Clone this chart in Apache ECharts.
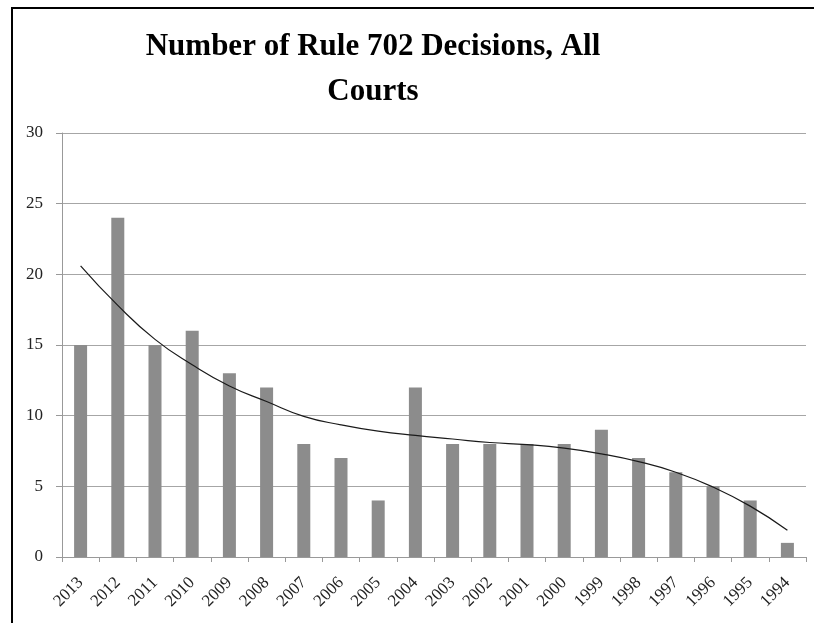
<!DOCTYPE html>
<html>
<head>
<meta charset="utf-8">
<title>Number of Rule 702 Decisions, All Courts</title>
<script src="https://cdn.jsdelivr.net/npm/echarts@6/dist/echarts.min.js"></script>
<style>
  html, body { margin: 0; padding: 0; background: #fff; }
  #chart { width: 814px; height: 623px; }
</style>
</head>
<body>
<div id="chart"></div>
<script>
  // data
  var years = ["2013", "2012", "2011", "2010", "2009", "2008", "2007", "2006", "2005", "2004",
               "2003", "2002", "2001", "2000", "1999", "1998", "1997", "1996", "1995", "1994"];
  var decisions = [15, 24, 15, 16, 13, 12, 8, 7, 4, 12, 8, 8, 8, 8, 9, 7, 6, 5, 4, 1];
  // trendline as drawn in the original (estimated per category)
  var trend = [20.6, 17.8, 15.4, 13.6, 12.1, 11.0, 9.95, 9.35, 8.9, 8.6,
               8.35, 8.1, 7.95, 7.7, 7.3, 6.75, 6.0, 4.95, 3.6, 1.9];
  var yTicks = [0, 5, 10, 15, 20, 25, 30];

  var serif = "'Liberation Serif', 'DejaVu Serif', serif";
  var chart = echarts.init(document.getElementById("chart"));
  chart.setOption({
    animation: false,
    title: {
      text: "Number of Rule 702 Decisions, All\nCourts",
      left: 368,
      top: 19,
      textAlign: "center",
      textStyle: {
        fontFamily: serif,
        fontSize: 31,
        fontWeight: "bold",
        color: "#000",
        lineHeight: 45
      }
    },
    graphic: [{
      type: "rect",
      shape: { x: 12, y: 8, width: 900, height: 700 },
      style: { fill: "none", stroke: "#000", lineWidth: 2 },
      silent: true
    }],
    grid: { left: 62, right: 8, top: 133, bottom: 66 },
    xAxis: {
      type: "category",
      data: years,
      axisLine: { lineStyle: { color: "#999", width: 1 } },
      axisTick: { show: true, length: 5, lineStyle: { color: "#999" } },
      axisLabel: {
        rotate: 45,
        margin: 23,
        fontFamily: serif,
        fontSize: 17,
        color: "#222"
      }
    },
    yAxis: {
      type: "value",
      min: yTicks[0],
      max: yTicks[yTicks.length - 1],
      interval: 5,
      axisLine: { show: true, lineStyle: { color: "#999", width: 1 } },
      axisTick: { show: true, length: 6, lineStyle: { color: "#999" } },
      splitLine: { lineStyle: { color: "#a6a6a6", width: 1 } },
      axisLabel: {
        margin: 19,
        fontFamily: serif,
        fontSize: 17,
        color: "#222"
      }
    },
    series: [{
      name: "Decisions",
      type: "bar",
      data: decisions,
      barWidth: 13,
      itemStyle: { color: "#8c8c8c" }
    }, {
      name: "Trend",
      type: "line",
      data: trend,
      smooth: true,
      symbol: "none",
      lineStyle: { color: "#1a1a1a", width: 1.2 },
      z: 5
    }]
  });
</script>
</body>
</html>
